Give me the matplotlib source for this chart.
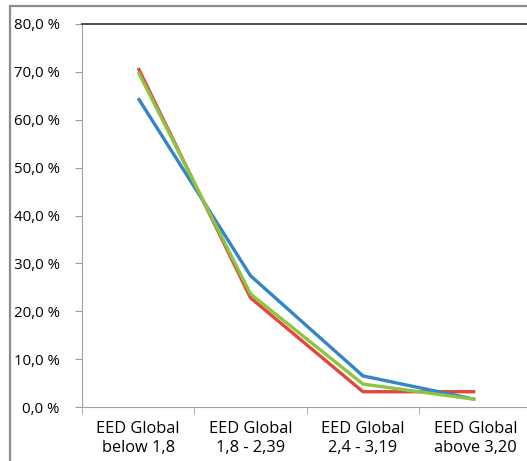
import matplotlib
matplotlib.use("Agg")
import matplotlib.pyplot as plt
from matplotlib.patches import Rectangle
from matplotlib.ticker import FuncFormatter, FixedLocator

plt.rcParams['font.family'] = ['Open Sans', 'DejaVu Sans']

categories = ["EED Global\nbelow 1,8", "EED Global\n1,8 - 2,39",
              "EED Global\n2,4 - 3,19", "EED Global\nabove 3,20"]
red_vals = [70.8, 22.8, 3.2, 3.2]
blue_vals = [64.5, 27.4, 6.5, 1.6]
green_vals = [70.0, 23.6, 4.8, 1.6]

fig = plt.figure(figsize=(5.27, 4.61), dpi=100)
# plot area runs a little past the right edge of the image
ax = fig.add_axes([0.1556, 0.117, 0.853, 0.831])

x = range(len(categories))
ax.plot(x, red_vals, color="#e4453d", lw=2.4, solid_capstyle="butt")
ax.plot(x, blue_vals, color="#3584c6", lw=2.4, solid_capstyle="butt")
ax.plot(x, green_vals, color="#8cc640", lw=2.4, solid_capstyle="butt")

ax.set_xlim(-0.5, len(categories) - 0.5)
ax.set_ylim(0, 80)
ax.set_yticks(range(0, 81, 10))
ax.yaxis.set_major_formatter(FuncFormatter(lambda v, p: f"{v:.1f} %".replace(".", ",")))

ax.set_xticks(list(x))
ax.set_xticklabels(categories, linespacing=1.25)
ax.xaxis.set_minor_locator(FixedLocator([-0.5, 0.5, 1.5, 2.5, 3.5]))
ax.tick_params(axis="x", which="major", length=0, pad=10, labelsize=11.8)
ax.tick_params(axis="x", which="minor", length=5, color="#a0a0a0")
ax.tick_params(axis="y", length=5, color="#a0a0a0", pad=11, labelsize=10.8)

for side in ("left", "bottom"):
    ax.spines[side].set_color("#a0a0a0")
ax.spines["top"].set_color("#404040")
ax.spines["top"].set_linewidth(1.3)
ax.spines["right"].set_visible(False)

# outer chart frame
fig.add_artist(Rectangle((10 / 527, -0.2), 1.2, 0.2 + (461 - 6) / 461,
                         transform=fig.transFigure, fill=False,
                         edgecolor="#8c8c8c", lw=1.6, clip_on=False))

fig.savefig("out.png", dpi=100)
